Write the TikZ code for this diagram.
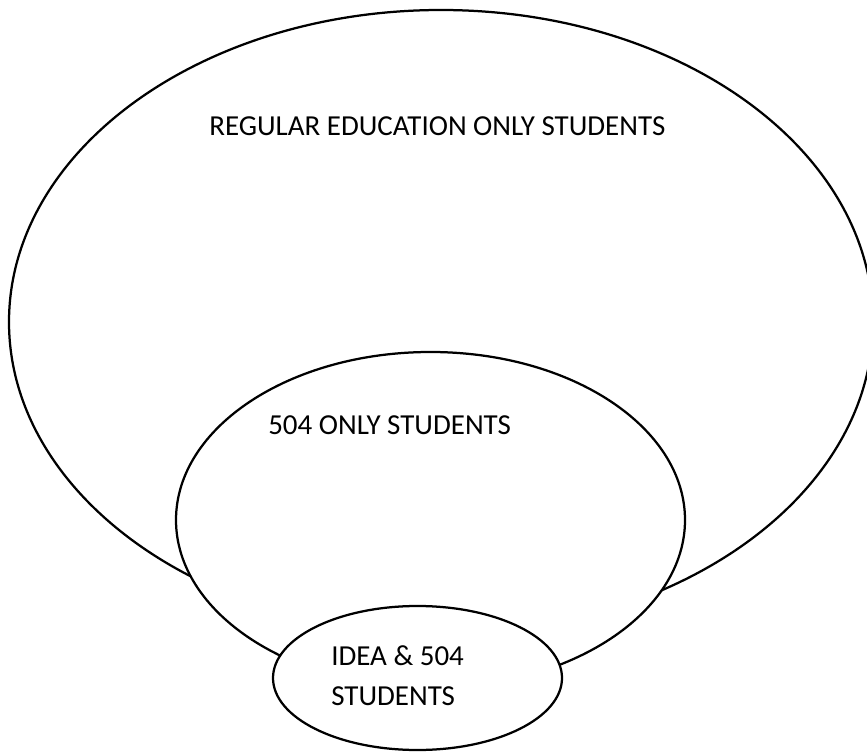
\documentclass[tikz,border=0pt]{standalone}
\usepackage{fontspec}
\setmainfont{Carlito}
\usetikzlibrary{shapes.geometric}

\begin{document}
\begin{tikzpicture}[x=0.025cm, y=-0.025cm,
    conjunto/.style={ellipse, draw, fill=white, line width=1.6pt, inner sep=0pt},
    etiqueta/.style={anchor=base west, inner sep=0pt, font=\fontsize{20.6}{28}\selectfont}]

    % marco de la imagen (pixeles)
    \useasboundingbox (0,0) rectangle (867,754);

    % parámetros (en cm)
    \def\unit{0.025}

    % --- elipse grande: educación regular ---
    \node[conjunto, minimum width=864*\unit cm, minimum height=624*\unit cm] (regular) at (441,322) {};

    % --- elipse mediana: 504 ---
    \node[conjunto, minimum width=509*\unit cm, minimum height=336*\unit cm] (solo504) at (430.5,520) {};

    % --- elipse chica: IDEA y 504 ---
    \node[conjunto, minimum width=289*\unit cm, minimum height=144*\unit cm] (idea) at (417.5,678) {};

    % etiquetas
    \node[etiqueta] (tregular) at (209,136) {REGULAR EDUCATION ONLY STUDENTS};
    \node[etiqueta] (tsolo504) at (268,434) {504 ONLY STUDENTS};
    \node[etiqueta] (tidea) at (331,665) {IDEA \& 504};
    \node[etiqueta] (tidea2) at (331,705) {STUDENTS};

\end{tikzpicture}
\end{document}
